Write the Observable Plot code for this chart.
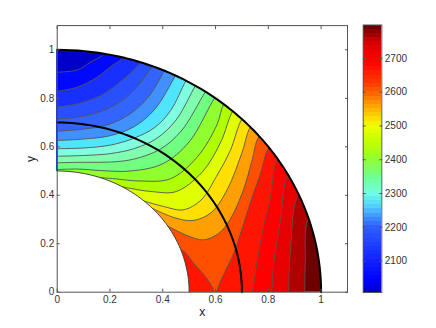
<!DOCTYPE html>
<html><head><meta charset="utf-8">
<script src="https://cdn.jsdelivr.net/npm/d3@7"></script>
<script src="https://cdn.jsdelivr.net/npm/@observablehq/plot@0.6"></script>
<style>
html,body{margin:0;padding:0;background:#fff}
#c{position:relative;width:436px;height:328px}
#c svg{position:absolute;left:0;top:0;background:transparent}
</style></head><body><div id="c"></div>
<script>
const c1=[[0,.908],[.076,.917],[.126,.949],[.177,.984]];
const c2=[[0,.829],[.076,.846],[.151,.887],[.208,.935],[.25,.968]];
const c3=[[0,.765],[.063,.774],[.164,.811],[.252,.880],[.315,.949]];
const c4=[[0,.715],[.076,.722],[.176,.75],[.268,.81],[.36,.933]];
const c5=[[0,.664],[.1,.673],[.19,.69],[.275,.735],[.345,.805],[.406,.914]];
const c6=[[0,.626],[.1,.632],[.202,.646],[.29,.682],[.37,.755],[.448,.894]];
const c7=[[0,.592],[.1,.595],[.202,.607],[.29,.635],[.37,.68],[.43,.75],[.488,.873]];
const c8=[[0,.561],[.1,.564],[.202,.572],[.29,.592],[.375,.633],[.45,.71],[.524,.852]];
const c9=[[0,.534],[.1,.536],[.202,.537],[.29,.549],[.39,.59],[.47,.665],[.562,.827]];
const c10=[[0,.506],[.08,.508],[.164,.502],[.278,.5],[.40,.53],[.50,.62],[.597,.802]];
const c11=[[.107,.477],[.209,.469],[.31,.459],[.429,.468],[.53,.557],[.605,.69],[.631,.776]];
const c12=[[.209,.444],[.278,.428],[.36,.415],[.45,.415],[.549,.495],[.62,.62],[.665,.747]];
const c13=[[.31,.382],[.402,.354],[.478,.34],[.545,.38],[.603,.477],[.656,.585],[.7,.714]];
const c14=[[.34,.357],[.44,.309],[.516,.296],[.585,.33],[.645,.425],[.7,.575],[.732,.681]];
const c15=[[.41,.278],[.492,.234],[.554,.216],[.611,.242],[.655,.3],[.705,.42],[.738,.543],[.764,.642]];
const c16=[[.603,0],[.625,.06],[.665,.15],[.7,.26],[.735,.38],[.77,.488],[.802,.596]];
const c17=[[.741,0],[.755,.11],[.78,.26],[.808,.391],[.835,.55]];
const c18=[[.814,0],[.82,.117],[.846,.296],[.875,.484]];
const c19=[[.877,0],[.883,.16],[.915,.403]];
const c20=[[.938,0],[.94,.118],[.953,.303]];
const pocket=[[.459,.151],[.473,.172],[.524,.11],[.568,.055],[.59,0]];

const hottest="#6e0000";
const bands=[[c20,"#b00000"],[c19,"#e60000"],[c18,"#ff0000"],[c17,"#ff1500"],[c16,"#ff5000"],
 [c15,"#ffa000"],[c14,"#ffe000"],[c13,"#e0ff00"],[c12,"#b0ff00"],[c11,"#90ff30"],[c10,"#70ff80"],
 [c9,"#80ffb0"],[c8,"#80ffe0"],[c7,"#50e5ff"],[c6,"#4090ff"],[c5,"#3464ff"],[c4,"#2850ff"],
 [c3,"#1830ff"],[c2,"#0008ff"],[c1,"#0000c8"]];
const pocketColor="#ff1500";

const xTicks=[0,.2,.4,.6,.8,1];
const yTicks=[0,.2,.4,.6,.8,1];
const barTicks=[2100,2200,2300,2400,2500,2600,2700];
const barDomain=[2007,2799];
const barStops=[2007,2040,2100,2200,2230,2260,2300,2350,2400,2450,2500,2530,2580,2620,2680,2700,2750,2799];
const barColors=["#0000c0","#0000ff","#1020ff","#3060ff","#4090ff","#50d0ff","#70ffe0","#70ff90","#90ff30","#c0ff00","#f0ff00","#ffd000","#ff8000","#ff4000","#ff0800","#ff0000","#d00000","#600000"];

const ceiling=1.09;
function closed(pts){
  const [ex,ey]=pts[pts.length-1], r=Math.hypot(ex,ey), k=1.05/r;
  return [...pts,[ex*k,ey*k],[ex*k,ceiling],[0,ceiling],[0,0]];
}
const arc=r=>d3.range(0,91,1.5).map(a=>[r*Math.sin(a*Math.PI/180),r*Math.cos(a*Math.PI/180)]);
const X=d=>d[0],Y=d=>d[1];
const gray="#555";
const sliver=-.006;

const marks=[
  Plot.line([[0,0],[1.05,0],[1.05,ceiling],[0,ceiling],[0,0]],{x:X,y:Y,fill:hottest,stroke:"none",clip:true})
];
bands.forEach(([pts,col],i)=>{
  marks.push(Plot.line(closed(pts),{x:X,y:Y,fill:col,stroke:gray,strokeWidth:.9,curve:"catmull-rom",clip:true}));
  if(pts===c16) marks.push(Plot.line([...pocket,[.35,0]],{x:X,y:Y,fill:pocketColor,stroke:gray,strokeWidth:.9,curve:"catmull-rom",clip:true}));
});
// white outside the ring
marks.push(Plot.line([...arc(1),[1.1,0],[1.1,1.1],[sliver,1.1],[sliver,1]],{x:X,y:Y,fill:"white",stroke:"none"}));
marks.push(Plot.line([...arc(.5),[0,0],[sliver,0],[sliver,.5]],{x:X,y:Y,fill:"white",stroke:"none"}));
marks.push(Plot.line(arc(.5),{x:X,y:Y,stroke:"#333",strokeWidth:.9}));
marks.push(Plot.line(arc(.7),{x:X,y:Y,stroke:"#000",strokeWidth:2}));
marks.push(Plot.line(arc(1),{x:X,y:Y,stroke:"#000",strokeWidth:2}));
marks.push(Plot.frame({stroke:gray,strokeWidth:1}));
marks.push(Plot.axisX(xTicks,{anchor:"bottom",tickSize:-3,text:null,stroke:gray,label:null}));
marks.push(Plot.axisX(xTicks,{anchor:"top",tickSize:-3,text:null,stroke:gray,label:null}));
marks.push(Plot.axisY(yTicks,{anchor:"left",tickSize:-3,text:null,stroke:gray,label:null}));
marks.push(Plot.axisY(yTicks,{anchor:"right",tickSize:-3,text:null,stroke:gray,label:null}));
marks.push(Plot.axisX(xTicks,{anchor:"bottom",tickSize:0,tickPadding:4,tickFormat:d=>String(d),label:null,fill:"#333"}));
marks.push(Plot.axisY(yTicks,{anchor:"left",tickSize:0,tickPadding:3,tickFormat:d=>String(d),label:null,fill:"#333"}));
marks.push(Plot.text(["x"],{x:.55,y:0,dy:20,text:d=>d,fontSize:12,fill:"#222"}));
marks.push(Plot.text(["y"],{x:0,y:.55,dx:-26,textAnchor:"middle",rotate:-90,text:d=>d,fontSize:12,fill:"#222"}));

const main=Plot.plot({width:436,height:328,marginLeft:56.7,marginRight:89,marginTop:25.1,marginBottom:36.3,
  x:{domain:[0,1.1],axis:null},y:{domain:[0,1.1],axis:null},
  style:{fontFamily:"'Liberation Sans',Arial,sans-serif",fontSize:"10px",background:"transparent"},marks});

const level=d3.scaleLinear(barStops,barColors).interpolate(d3.interpolateRgb);
const edges=d3.range(65).map(i=>barDomain[0]+(barDomain[1]-barDomain[0])*i/64);
const cells=edges.slice(0,-1).map((e,i)=>({y1:e,y2:edges[i+1],c:level((e+edges[i+1])/2)}));
const bar=Plot.plot({width:436,height:328,marginLeft:362.7,marginRight:54.7,marginTop:24.5,marginBottom:36,
  x:{domain:[0,1],axis:null},y:{domain:barDomain,axis:null},
  style:{fontFamily:"'Liberation Sans',Arial,sans-serif",fontSize:"10px",background:"transparent"},
  marks:[
    Plot.rect(cells,{x1:()=>0,x2:()=>1,y1:"y1",y2:"y2",fill:"c",shapeRendering:"crispEdges"}),
    Plot.frame({stroke:gray,strokeWidth:1}),
    Plot.axisY(barTicks,{anchor:"left",tickSize:-3,text:null,stroke:gray,label:null}),
    Plot.axisY(barTicks,{anchor:"right",tickSize:-3,text:null,stroke:gray,label:null}),
    Plot.axisY(barTicks,{anchor:"right",tickSize:0,tickPadding:3,tickFormat:d=>String(d),label:null,fill:"#333"})
  ]});
document.getElementById("c").append(main,bar);
</script></body></html>
